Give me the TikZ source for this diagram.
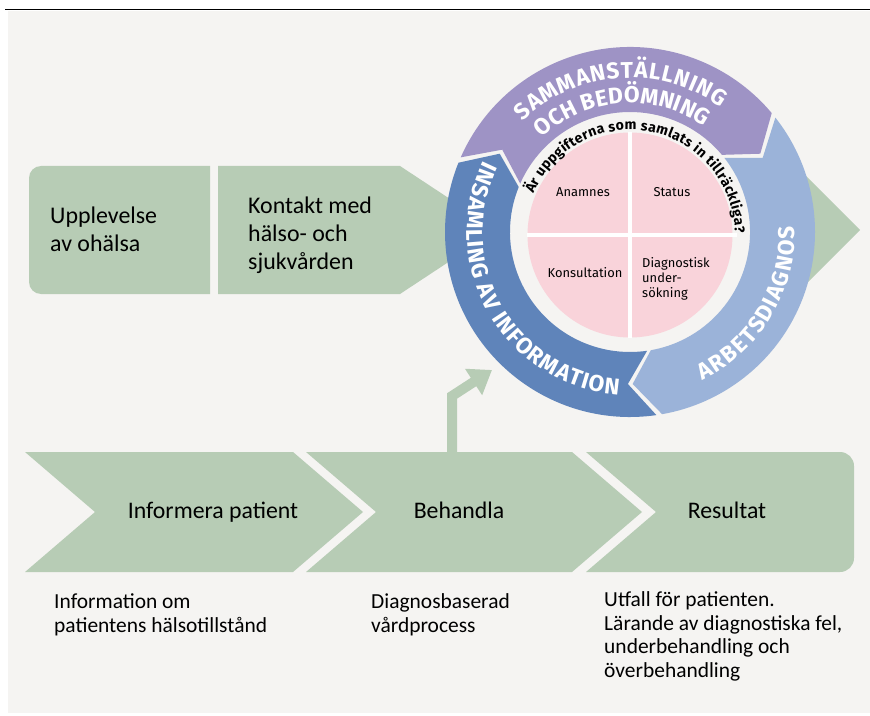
\documentclass[tikz,border=0pt]{standalone}
\usepackage{fontspec}
\setmainfont{Carlito}
\newfontfamily\ringfont{Fira Sans}
\usetikzlibrary{arrows.meta,decorations.text}
\definecolor{pagegray}{HTML}{F5F4F2}
\definecolor{stepgreen}{HTML}{B7CCB5}
\definecolor{ringblue}{HTML}{5F84BA}
\definecolor{ringpurple}{HTML}{9E93C5}
\definecolor{ringsky}{HTML}{9BB3D9}
\definecolor{corepink}{HTML}{F9D3DA}
\newcommand\ringtext{\color{white}\ringfont\bfseries\fontsize{19.5}{22}\selectfont}
\newcommand\asktext{\ringfont\bfseries\fontsize{12}{14}\selectfont}

\begin{document}
\begin{tikzpicture}[x=0.03cm,y=0.03cm,
    boxtext/.style={font=\fontsize{20.4}{24}\selectfont,inner sep=0,
      anchor=base west,align=left},
    steptext/.style={font=\fontsize{20.3}{23}\selectfont,inner sep=0,anchor=base},
    notetext/.style={font=\fontsize{18.3}{20}\selectfont,inner sep=0,
      anchor=base west,align=left},
    coretext/.style={font=\ringfont\fontsize{11}{13.2}\selectfont,inner sep=0,
      anchor=base,align=left}]
  \path[use as bounding box] (0,0) rectangle (870,715);
  \fill[pagegray] (8,2) rectangle (870,704);
  \draw[line width=0.03cm] (5,705) -- (870,705);

  % upper row, running in behind the ring
  \fill[stepgreen] (210,549) -- (41,549) arc[start angle=90,end angle=180,radius=12]
    -- (29,433) arc[start angle=180,end angle=270,radius=12] -- (210,421) -- cycle;
  \fill[stepgreen] (218,549) -- (400,549) -- (497,485) -- (400,421) -- (218,421) -- cycle;
  \fill[stepgreen] (780,565) -- (860,485) -- (780,405) -- cycle;
  % multi-line nodes sit on the baseline of their last line
  \node[boxtext] (ohalsa) at (50,463) {Upplevelse\\av ohälsa};
  \node[boxtext] (kontakt) at (248,445) {Kontakt med\\hälso- och\\sjukvården};

  % the ring: three arrow parts, clockwise
  \begin{scope}[shift={(630,483)}]
    \fill[pagegray] (0,0) circle[radius=121];
    \foreach \col/\a/\b in {ringblue/280/158,ringpurple/158/40,ringsky/40/-80}{
      \fill[\col] ({\a-1.8}:185) arc[start angle={\a-1.8},end angle=\b,radius=185]
        -- ({\b-9}:152) -- (\b:120) arc[start angle=\b,end angle={\a-1.8},radius=120]
        -- ({\a-10.8}:152) -- cycle;
    }
  \end{scope}
  \begin{scope}[shift={(630,480)}]
    \fill[corepink] (0,0) circle[radius=102.5];
    \draw[white,line width=0.12cm] (0,-103) -- (0,103) (-103,0) -- (107,0);
  \end{scope}
  \node[coretext] (anamnes) at (583,518) {Anamnes};
  \node[coretext] (status) at (672,518) {Status};
  \node[coretext] (konsultation) at (585,438) {Konsultation};
  \node[coretext,anchor=base west] (undersokning) at (642,417)
    {Diagnostisk\\under-\\sökning};

  % texts along the ring
  \path[decorate,decoration={text along path,text align=fit to path,
      text={|\asktext|Är uppgifterna som samlats in tillräckliga?}}]
    (630,480) ++(157:105) arc[start angle=157,end angle=1,radius=105];
  \path[decorate,decoration={text along path,text align=fit to path,
      text={|\ringtext|SAMMANSTÄLLNING}}]
    (630,483) ++(134:154) arc[start angle=134,end angle=54,radius=154];
  \path[decorate,decoration={text along path,text align=fit to path,
      text={|\ringtext|OCH BEDÖMNING}}]
    (630,483) ++(133:129) arc[start angle=133,end angle=56,radius=129];
  \path[decorate,decoration={text along path,text align=fit to path,
      text={|\ringtext|INSAMLING AV INFORMATION}}]
    (630,483) ++(154:163) arc[start angle=154,end angle=266,radius=163];
  \path[decorate,decoration={text along path,text align=fit to path,
      text={|\ringtext|ARBETSDIAGNOS}}]
    (630,483) ++(-64:165) arc[start angle=-64,end angle=2,radius=165];

  % lower row of steps
  \fill[stepgreen] (25,263) -- (293,263) -- (363,203) -- (293,143) -- (25,143)
    -- (95,203) -- cycle;
  \fill[stepgreen] (306,263) -- (572,263) -- (642,203) -- (572,143) -- (306,143)
    -- (376,203) -- cycle;
  \fill[stepgreen] (586,263) -- (840,263) arc[start angle=90,end angle=0,radius=14]
    -- (854,157) arc[start angle=0,end angle=-90,radius=14] -- (586,143)
    -- (656,203) -- cycle;
  \node[steptext] (informera) at (213,197) {Informera patient};
  \node[steptext] (behandla) at (459,197) {Behandla};
  \node[steptext] (resultat) at (727,197) {Resultat};

  % back into the ring
  \coordinate (feed) at (452,258);
  \coordinate (loopin) at (492,345);
  \draw[stepgreen,line width=0.3cm,-{Triangle[width=0.9cm,length=0.66cm]}]
    (feed) -- ++(0,61) -- (loopin);

  \node[notetext] (tillstand) at (54,83) {Information om\\patientens hälsotillstånd};
  \node[notetext] (vardprocess) at (371,83) {Diagnosbaserad\\vårdprocess};
  \node[notetext] (utfall) at (604,38) {Utfall för patienten.\\Lärande av
    diagnostiska fel,\\underbehandling och\\överbehandling};
\end{tikzpicture}
\end{document}
